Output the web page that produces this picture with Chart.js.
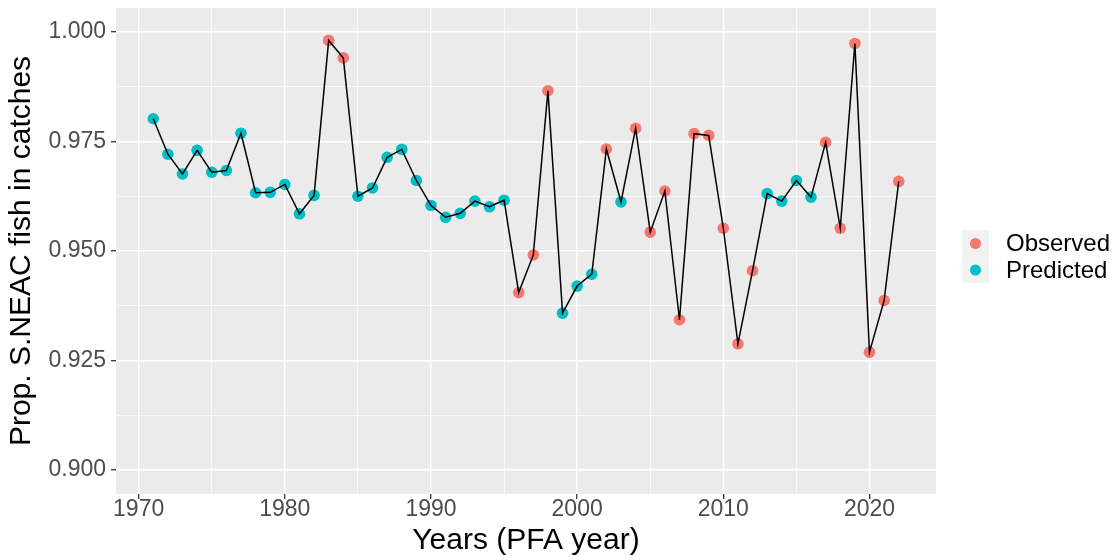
<!DOCTYPE html>
<html lang="en">
<head>
    <meta charset="UTF-8">
    <title>S.NEAC proportion</title>
    <script src="https://cdn.jsdelivr.net/npm/chart.js"></script>
    <style>
        body { margin: 0; background: #ffffff; }
        #wrap { width: 1118px; height: 556px; }
    </style>
</head>
<body>
    <div id="wrap">
    <canvas id="myChart"></canvas>
    </div>
    <script>
        // data
        const years = [1971, 1972, 1973, 1974, 1975, 1976, 1977, 1978, 1979, 1980,
                       1981, 1982, 1983, 1984, 1985, 1986, 1987, 1988, 1989, 1990,
                       1991, 1992, 1993, 1994, 1995, 1996, 1997, 1998, 1999, 2000,
                       2001, 2002, 2003, 2004, 2005, 2006, 2007, 2008, 2009, 2010,
                       2011, 2012, 2013, 2014, 2015, 2016, 2017, 2018, 2019, 2020,
                       2021, 2022];
        const prop = [0.9802, 0.9721, 0.9676, 0.9730, 0.9680, 0.9684, 0.9769, 0.9633, 0.9634, 0.9652,
                      0.9585, 0.9627, 0.9981, 0.9941, 0.9625, 0.9644, 0.9714, 0.9732, 0.9661, 0.9604,
                      0.9577, 0.9586, 0.9614, 0.9601, 0.9616, 0.9405, 0.9491, 0.9866, 0.9358, 0.9420,
                      0.9447, 0.9733, 0.9612, 0.9780, 0.9543, 0.9637, 0.9343, 0.9768, 0.9764, 0.9552,
                      0.9288, 0.9455, 0.9631, 0.9614, 0.9661, 0.9623, 0.9748, 0.9552, 0.9974, 0.9269,
                      0.9387, 0.9659];
        const source = ['P', 'P', 'P', 'P', 'P', 'P', 'P', 'P', 'P', 'P',
                        'P', 'P', 'O', 'O', 'P', 'P', 'P', 'P', 'P', 'P',
                        'P', 'P', 'P', 'P', 'P', 'O', 'O', 'O', 'P', 'P',
                        'P', 'O', 'P', 'O', 'O', 'O', 'O', 'O', 'O', 'O',
                        'O', 'O', 'P', 'P', 'P', 'P', 'O', 'O', 'O', 'O',
                        'O', 'O'];

        const xMajor = [1970, 1980, 1990, 2000, 2010, 2020];
        const xMinor = [1975, 1985, 1995, 2005, 2015];
        const yMajor = [0.900, 0.925, 0.950, 0.975, 1.000];
        const yMinor = [0.9125, 0.9375, 0.9625, 0.9875];
        const yTickLabels = ['0.900', '0.925', '0.950', '0.975', '1.000'];

        const legendItems = ['Observed', 'Predicted'];
        const colObs = '#F8766D';
        const colPred = '#00BFC4';
        const font = '"Liberation Sans", Arial, sans-serif';

        const allPts = years.map((y, i) => ({x: y, y: prop[i]}));
        const obsPts = allPts.filter((p, i) => source[i] === 'O');
        const predPts = allPts.filter((p, i) => source[i] === 'P');

        // grey panel behind the plot
        const panelBg = {
            id: 'panelBg',
            beforeDraw(chart) {
                const {ctx, chartArea: a} = chart;
                ctx.save();
                ctx.fillStyle = '#ffffff';
                ctx.fillRect(0, 0, chart.width, chart.height);
                ctx.fillStyle = '#EBEBEB';
                ctx.fillRect(a.left, a.top, a.right - a.left, a.bottom - a.top);
                ctx.restore();
            }
        };

        // ggplot style legend on the right
        const ggLegend = {
            id: 'ggLegend',
            afterDraw(chart) {
                const ctx = chart.ctx;
                const cols = [colObs, colPred];
                ctx.save();
                ctx.fillStyle = '#F2F2F2';
                ctx.fillRect(962, 230, 27, 53);
                legendItems.forEach((txt, i) => {
                    const cy = 243.5 + i * 26.5;
                    ctx.beginPath();
                    ctx.arc(975.5, cy, 5.5, 0, Math.PI * 2);
                    ctx.fillStyle = cols[i];
                    ctx.fill();
                    ctx.fillStyle = '#000000';
                    ctx.font = '24px ' + font;
                    ctx.textBaseline = 'middle';
                    ctx.textAlign = 'left';
                    ctx.fillText(txt, 1006, cy + 1);
                });
                ctx.restore();
            }
        };

        const isIn = (arr, v) => arr.some(m => Math.abs(m - v) < 1e-6);

        const config = {
            type: 'scatter',
            data: {
                datasets: [
                    {
                        label: 'line',
                        data: allPts,
                        showLine: true,
                        borderColor: '#000000',
                        borderWidth: 1.5,
                        pointRadius: 0,
                        order: 0
                    },
                    {
                        label: 'Observed',
                        data: obsPts,
                        backgroundColor: colObs,
                        borderWidth: 0,
                        pointRadius: 5.8,
                        order: 1
                    },
                    {
                        label: 'Predicted',
                        data: predPts,
                        backgroundColor: colPred,
                        borderWidth: 0,
                        pointRadius: 5.8,
                        order: 2
                    }
                ]
            },
            options: {
                responsive: true,
                maintainAspectRatio: false,
                animation: false,
                layout: { padding: { left: 0, top: 8, right: 182, bottom: 0 } },
                plugins: {
                    legend: { display: false },
                    tooltip: { enabled: false }
                },
                scales: {
                    x: {
                        type: 'linear',
                        min: 1968.45,
                        max: 2024.55,
                        afterBuildTicks: s => { s.ticks = xMajor.concat(xMinor).sort((a, b) => a - b).map(v => ({value: v})); },
                        afterFit: s => { s.height = 62; s.paddingLeft = 0; s.paddingRight = 0; },
                        border: { display: false },
                        grid: {
                            color: '#ffffff',
                            lineWidth: c => isIn(xMajor, c.tick.value) ? 1.4 : 0.7,
                            tickColor: c => isIn(xMajor, c.tick.value) ? '#333333' : 'rgba(0,0,0,0)',
                            tickLength: 5,
                            tickWidth: 1.3
                        },
                        ticks: {
                            autoSkip: false,
                            maxRotation: 0,
                            padding: -3,
                            color: '#4D4D4D',
                            font: { family: font, size: 23 },
                            callback: v => isIn(xMajor, v) ? String(v) : ''
                        },
                        title: {
                            display: true,
                            text: 'Years (PFA year)',
                            color: '#000000',
                            padding: { top: 0, bottom: -3 },
                            font: { family: font, size: 30 }
                        }
                    },
                    y: {
                        min: 0.8945,
                        max: 1.0055,
                        afterBuildTicks: s => { s.ticks = yMajor.concat(yMinor).sort((a, b) => a - b).map(v => ({value: v})); },
                        afterFit: s => { s.width = 116; s.paddingTop = 0; s.paddingBottom = 0; },
                        border: { display: false },
                        grid: {
                            color: '#ffffff',
                            lineWidth: c => isIn(yMajor, c.tick.value) ? 1.4 : 0.7,
                            tickColor: c => isIn(yMajor, c.tick.value) ? '#333333' : 'rgba(0,0,0,0)',
                            tickLength: 5,
                            tickWidth: 1.3
                        },
                        ticks: {
                            autoSkip: false,
                            padding: 5,
                            color: '#4D4D4D',
                            font: { family: font, size: 23 },
                            callback: v => {
                                const k = yMajor.findIndex(m => Math.abs(m - v) < 1e-6);
                                return k >= 0 ? yTickLabels[k] : '';
                            }
                        },
                        title: {
                            display: true,
                            text: 'Prop. S.NEAC fish in catches',
                            color: '#000000',
                            padding: { top: 4, bottom: 0 },
                            font: { family: font, size: 30 }
                        }
                    }
                }
            },
            plugins: [panelBg, ggLegend]
        };

        const ctx = document.getElementById('myChart').getContext('2d');
        const myChart = new Chart(ctx, config);
    </script>
</body>
</html>
